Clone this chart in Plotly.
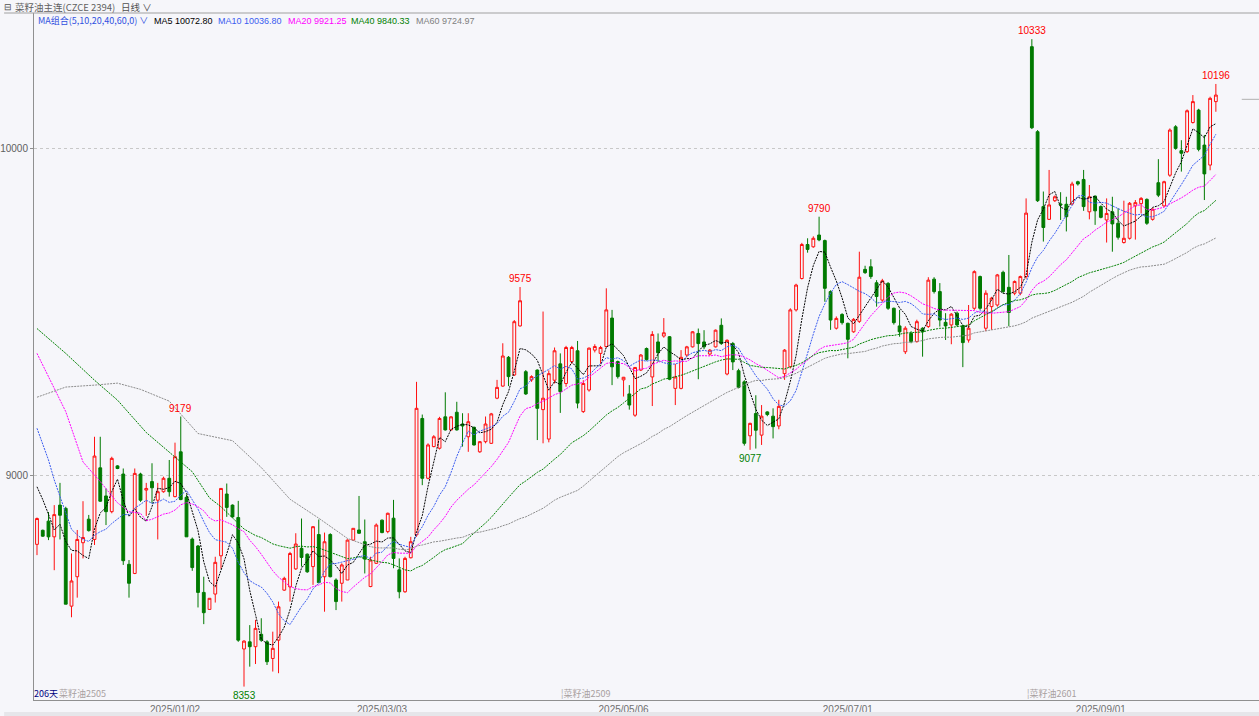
import plotly.graph_objects as go
import pandas as pd

# ---------------- data ----------------
opens = [8788,8831,8859,8811,8908,8898,8599,8689,8793,8865,8803,9022,8936,8888,9028,9003,8727,8699,9003,8954,
         8980,8923,8949,8990,8934,9071,8932,8804,8783,8641,8589,8636,8753,8942,8908,8870,8468,8490,8475,8513,
         8490,8439,8495,8648,8658,8713,8776,8758,8720,8818,8689,8818,8679,8669,8679,8801,8832,8796,8659,8730,
         8862,8827,8868,8710,8643,8747,8817,9173,8990,9087,9082,9178,9138,9192,9156,9117,9146,9071,9102,9097,
         9235,9272,9360,9306,9456,9316,9291,9321,9200,9110,9290,9340,9280,9347,9380,9194,9260,9382,9372,9393,
         9480,9347,9291,9248,9183,9321,9387,9300,9407,9425,9423,9265,9265,9367,9392,9433,9407,9370,9392,9458,
         9309,9402,9319,9285,9120,9188,9122,9193,9180,9150,9310,9331,9505,9601,9705,9698,9734,9717,9561,9449,
         9491,9464,9438,9470,9629,9637,9588,9535,9586,9510,9456,9377,9433,9408,9449,9454,9599,9561,9467,9459,
         9495,9456,9413,9510,9607,9449,9515,9520,9620,9574,9556,9556,9607,10310,10050,9821,9782,9839,9829,9828,
         9829,9897,9904,9805,9853,9821,9780,9805,9770,9711,9724,9823,9830,9843,9782,9894,9823,9917,10065,9992,
         9989,10078,10116,10009,9948,10142]
highs = [8870,8833,8887,8908,8976,8903,8760,8832,8920,8878,9117,9117,8959,9056,9030,9020,8740,9020,9007,8976,
         9036,8976,8995,9046,9099,9179,8940,8809,8786,8689,8623,8750,8959,8974,8910,8921,8495,8541,8557,8562,
         8495,8521,8613,8689,8765,8822,8867,8760,8844,8864,8824,8822,8684,8730,8803,8837,8936,8864,8750,8852,
         8864,8885,8924,8745,8750,8811,9285,9185,9097,9122,9178,9253,9180,9224,9189,9189,9148,9104,9179,9190,
         9291,9403,9364,9474,9575,9321,9305,9323,9500,9320,9390,9372,9395,9395,9410,9290,9390,9400,9395,9571,
         9505,9350,9300,9275,9330,9370,9390,9440,9433,9480,9425,9340,9382,9395,9440,9448,9443,9385,9445,9479,
         9415,9407,9325,9290,9160,9244,9214,9195,9204,9230,9385,9510,9585,9710,9724,9730,9790,9720,9565,9485,
         9495,9466,9480,9683,9640,9660,9596,9600,9590,9512,9505,9455,9440,9475,9452,9605,9605,9587,9495,9495,
         9500,9460,9520,9626,9610,9565,9545,9615,9625,9673,9595,9610,9846,10333,10055,9867,9933,9855,9865,9851,
         9897,9900,9933,9887,9855,9825,9846,9851,9816,9839,9835,9841,9850,9846,9816,9966,9900,10060,10070,10024,
         10118,10162,10120,10040,10157,10196]
lows = [8755,8811,8801,8709,8803,8605,8565,8625,8745,8827,8786,8918,8847,8883,9018,8725,8625,8697,8918,8875,
        8913,8803,8946,8934,8932,8923,8811,8707,8595,8544,8589,8610,8713,8872,8870,8490,8353,8414,8422,8490,
        8419,8399,8394,8646,8613,8710,8720,8701,8664,8669,8582,8687,8587,8613,8679,8799,8820,8699,8657,8728,
        8822,8822,8715,8623,8640,8745,8811,8969,8987,9085,9078,9136,9136,9136,9087,9071,9090,9068,9097,9095,
        9232,9270,9272,9303,9454,9245,9285,9107,9097,9100,9280,9190,9270,9340,9204,9190,9255,9375,9340,9390,
        9275,9295,9240,9200,9178,9318,9350,9211,9346,9420,9290,9214,9262,9360,9390,9293,9385,9365,9390,9398,
        9305,9321,9265,9090,9077,9081,9092,9180,9112,9140,9291,9326,9500,9598,9680,9695,9715,9530,9444,9445,
        9460,9357,9435,9465,9615,9600,9515,9530,9505,9460,9423,9370,9403,9405,9362,9450,9555,9454,9413,9400,
        9455,9330,9405,9505,9505,9440,9444,9515,9555,9455,9550,9550,9600,10058,9835,9714,9780,9835,9780,9745,
        9825,9885,9808,9782,9765,9785,9711,9683,9720,9708,9720,9720,9800,9765,9778,9850,9820,9912,9995,9928,
        9985,10075,9990,9841,9932,10111]
closes = [8867,8813,8811,8879,8877,8605,8676,8803,8809,8830,9058,8920,8888,9051,9020,8738,8669,9005,8923,8959,
          8961,8949,8990,8949,9056,8925,8811,8717,8641,8579,8623,8733,8959,8901,8872,8495,8492,8475,8531,8495,
          8429,8470,8597,8684,8760,8789,8748,8704,8842,8671,8796,8689,8613,8725,8801,8837,8822,8743,8740,8847,
          8824,8883,8745,8643,8745,8796,9204,8990,9092,9117,9173,9138,9178,9138,9150,9163,9092,9102,9156,9187,
          9268,9364,9301,9469,9533,9248,9301,9204,9235,9310,9380,9255,9390,9390,9220,9280,9388,9393,9390,9505,
          9331,9301,9299,9214,9329,9367,9353,9430,9374,9435,9293,9300,9360,9392,9438,9402,9392,9382,9443,9402,
          9412,9346,9268,9097,9158,9137,9180,9185,9148,9210,9382,9505,9581,9705,9690,9724,9719,9571,9474,9479,
          9466,9415,9476,9605,9619,9607,9546,9594,9510,9466,9438,9449,9408,9469,9438,9596,9561,9474,9456,9492,
          9459,9405,9449,9622,9510,9556,9541,9612,9561,9497,9592,9607,9801,10062,9839,9757,9826,9851,9826,9790,
          9890,9890,9821,9851,9808,9788,9800,9768,9727,9724,9831,9833,9846,9770,9813,9856,9897,10055,9999,9984,
          10114,10142,9996,9921,10152,10162]

# moving-average values before each window is filled
ma5_head_idx = [0, 1, 2, 3]
ma5_head = [8964, 8925, 8880, 8832]
ma10_head_idx = [0, 1, 2, 3, 4, 5, 6, 7, 8]
ma10_head = [9143, 9097, 9046, 8985, 8934, 8883, 8834, 8817, 8803]
ma20_head_idx = [0, 3, 5, 8, 11, 14, 16, 18]
ma20_head = [9372, 9265, 9194, 9040, 8980, 8915, 8888, 8883]
ma40_head_idx = [0, 5, 10, 14, 19, 23, 27, 30, 32, 36, 38]
ma40_head = [9448, 9372, 9290, 9229, 9130, 9070, 9010, 8930, 8903, 8835, 8815]
ma60_head_idx = [0, 5, 10, 14, 18, 23, 28, 34, 39, 44, 49, 54, 58]
ma60_head = [9238, 9269, 9275, 9281, 9262, 9226, 9127, 9105, 9023, 8926, 8868, 8806, 8781]

tick_idx = [24, 60, 102, 141, 185]
tick_text = ["2025/01/02", "2025/03/03", "2025/05/06", "2025/07/01", "2025/09/01"]

high_label_idx = [25, 84, 136, 173, 205]
low_label_idx = [36, 124]

legend_names = ["MA5", "MA10", "MA20", "MA40", "MA60"]
legend_values = ["10072.80", "10036.80", "9921.25", "9840.33", "9724.97"]

roll_labels = ["菜籽油2505", "菜籽油2509", "菜籽油2601"]
last_marker_price = 10149

# ---------------- figure ----------------
N = len(closes)
xs = list(range(N))
BG = "#f6f6fa"
FONT = "Tahoma, 'Liberation Sans', 'Noto Sans CJK SC', sans-serif"
CJK = "'Noto Sans CJK SC', 'Liberation Sans', sans-serif"
ma_colors = ["#000000", "#3a5cf0", "#ff00ff", "#008000", "#8c8c8c"]

fig = go.Figure()
fig.add_trace(go.Candlestick(
    x=xs, open=opens, high=highs, low=lows, close=closes,
    increasing=dict(line=dict(color="#ff1010", width=1), fillcolor=BG),
    decreasing=dict(line=dict(color="#007a00", width=1), fillcolor="#007a00"),
    whiskerwidth=0, showlegend=False, hoverinfo="skip"))

s = pd.Series(closes, dtype=float)
heads = [(5, ma5_head_idx, ma5_head), (10, ma10_head_idx, ma10_head),
         (20, ma20_head_idx, ma20_head), (40, ma40_head_idx, ma40_head),
         (60, ma60_head_idx, ma60_head)]
for (n, hidx, hval), col in zip(heads, ma_colors):
    roll = s.rolling(n).mean()
    mx = list(hidx) + list(range(n - 1, N))
    my = list(hval) + list(roll.iloc[n - 1:])
    fig.add_trace(go.Scatter(x=mx, y=my, mode="lines",
                             line=dict(color=col, width=1, dash="2px,1px"),
                             showlegend=False, hoverinfo="skip"))

annotations = []
for i in high_label_idx:
    annotations.append(dict(x=i, y=highs[i], xref="x", yref="y", text=str(highs[i]),
                            showarrow=False, yanchor="bottom", yshift=1,
                            font=dict(family=FONT, size=10, color="#ff0000")))
for i in low_label_idx:
    annotations.append(dict(x=i, y=lows[i], xref="x", yref="y", text=str(lows[i]),
                            showarrow=False, yanchor="top", yshift=-1,
                            font=dict(family=FONT, size=10, color="#008000")))

L, R, T, B = 30, 0, 13, 16
W, H = 1259, 716
PW, PH = W - L - R, H - T - B


def px(x):
    return (x - L) / PW


def py(y):
    return (H - B - y) / PH


def txt(x, y, t, color, size=10, family=FONT, anchor="left"):
    # annotation boxes carry ~3px of padding; shift so text starts at x
    annotations.append(dict(x=px(x - 3), y=py(y), xref="paper", yref="paper", text=t,
                            showarrow=False, xanchor=anchor, yanchor="middle",
                            font=dict(family=family, size=size, color=color)))


# header
txt(1, 7, "⊟", "#505050", 9)
txt(12, 7, "菜籽油主连(CZCE 2394)", "#606060", 9.5, CJK)
txt(118, 7, "日线 ∨", "#505050", 9.5, CJK)
# MA legend line
txt(35, 21, "MA组合(5,10,20,40,60,0) ∨", "#3050e0", 9, CJK)
leg_x = [151, 216, 286, 349, 414]
leg_cols = ["#000000", "#3a5cf0", "#ff00ff", "#008000", "#808080"]
for xx, name, val, col in zip(leg_x, legend_names, legend_values, leg_cols):
    txt(xx, 21, f"{name} {val}", col, 9)

# bottom markers
txt(31, 693, "206天", "#000080", 9, CJK)
txt(56, 693, roll_labels[0], "#a8a0a0", 9, CJK)
txt(560, 693, "¦" + roll_labels[1], "#a8a0a0", 9, CJK)
txt(1027, 693, "¦" + roll_labels[2], "#a8a0a0", 9, CJK)

shapes = [
    dict(type="line", xref="paper", yref="paper", x0=px(0), x1=1, y0=py(13), y1=py(13),
         line=dict(color="#a0a0a0", width=1)),
    dict(type="rect", xref="paper", yref="paper", x0=px(0), x1=1, y0=py(716), y1=py(712),
         line=dict(width=0), fillcolor="#e6e6ea"),
    dict(type="line", xref="x", yref="y", x0=209.5, x1=212.5, y0=last_marker_price, y1=last_marker_price,
         line=dict(color="#b0b0b0", width=1)),
]

fig.update_layout(
    width=W, height=H, margin=dict(l=L, r=R, t=T, b=B, pad=0),
    paper_bgcolor=BG, plot_bgcolor=BG,
    annotations=annotations, shapes=shapes,
    font=dict(family=FONT, size=10, color="#707070"),
    xaxis=dict(range=[-0.52, 212.5], rangeslider=dict(visible=False),
               tickmode="array", tickvals=tick_idx, ticktext=tick_text,
               showgrid=False, zeroline=False, showline=True, linecolor="#909090",
               ticks="", tickfont=dict(size=10, color="#707070")),
    yaxis=dict(range=[8312, 10413], tickmode="array", tickvals=[9000, 10000],
               ticktext=["9000", "10000"], showgrid=True, gridcolor="#c8c8c8",
               griddash="dot", gridwidth=1, zeroline=False, showline=True,
               linecolor="#909090", ticks="outside", ticklen=3, tickcolor="#909090",
               tickfont=dict(size=10, color="#606060")),
)

fig.write_html("out.html", post_script="document.body.style.margin='0';",
               config={"displayModeBar": False})
